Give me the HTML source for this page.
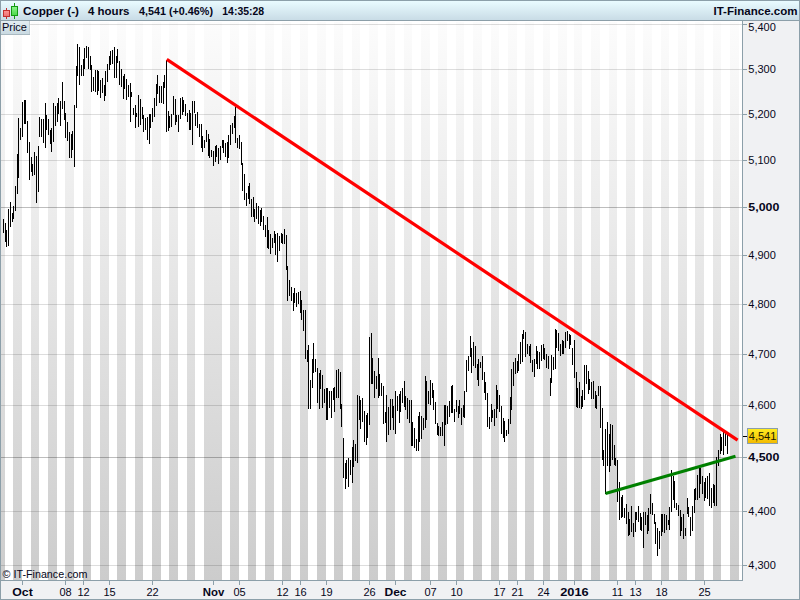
<!DOCTYPE html><html><head><meta charset="utf-8"><style>
html,body{margin:0;padding:0;background:#f0f1f3;}
body{width:800px;height:600px;overflow:hidden;font-family:"Liberation Sans",sans-serif;}
svg{display:block;}
</style></head><body>
<svg width="800" height="600" viewBox="0 0 800 600" font-family="Liberation Sans, sans-serif">
<defs>
<linearGradient id="hdr" x1="0" y1="0" x2="0" y2="1"><stop offset="0" stop-color="#e9fbff"/><stop offset="1" stop-color="#c9dce6"/></linearGradient>
<linearGradient id="stp" gradientUnits="userSpaceOnUse" x1="0" y1="21" x2="0" y2="580"><stop offset="0" stop-color="#fcfcfc"/><stop offset="1" stop-color="#cccccc"/></linearGradient>
<linearGradient id="pbox" x1="0" y1="0" x2="0" y2="1"><stop offset="0" stop-color="#e3edf2"/><stop offset="1" stop-color="#c9d9e1"/></linearGradient>
<linearGradient id="ybox" x1="0" y1="0" x2="0" y2="1"><stop offset="0" stop-color="#ffee22"/><stop offset="1" stop-color="#f2b900"/></linearGradient>
</defs>
<rect x="0" y="0" width="800" height="600" fill="#f0f1f3"/>
<rect x="1" y="21" width="741" height="559" fill="#ffffff"/>
<path d="M1 22h4v558h-4zM13 22h9v558h-9zM31 22h8v558h-8zM48 22h9v558h-9zM65 22h9v558h-9zM83 22h8v558h-8zM100 22h9v558h-9zM117 22h9v558h-9zM135 22h8v558h-8zM152 22h9v558h-9zM169 22h9v558h-9zM187 22h8v558h-8zM204 22h18v558h-18zM230 22h9v558h-9zM248 22h8v558h-8zM265 22h9v558h-9zM282 22h9v558h-9zM300 22h8v558h-8zM317 22h9v558h-9zM334 22h9v558h-9zM352 22h8v558h-8zM369 22h9v558h-9zM386 22h9v558h-9zM404 22h8v558h-8zM421 22h9v558h-9zM438 22h9v558h-9zM456 22h8v558h-8zM473 22h9v558h-9zM491 22h8v558h-8zM508 22h9v558h-9zM525 22h9v558h-9zM543 22h7v558h-7zM558 22h9v558h-9zM574 22h8v558h-8zM591 22h9v558h-9zM609 22h8v558h-8zM626 22h9v558h-9zM643 22h9v558h-9zM661 22h8v558h-8zM678 22h9v558h-9zM695 22h9v558h-9zM713 22h8v558h-8zM730 22h9v558h-9z" fill="url(#stp)"/>
<rect x="1" y="565" width="741" height="1" fill="#000" fill-opacity="0.135"/>
<rect x="1" y="511" width="741" height="1" fill="#000" fill-opacity="0.135"/>
<rect x="1" y="457" width="741" height="1" fill="#000" fill-opacity="0.260"/>
<rect x="1" y="405" width="741" height="1" fill="#000" fill-opacity="0.135"/>
<rect x="1" y="354" width="741" height="1" fill="#000" fill-opacity="0.135"/>
<rect x="1" y="304" width="741" height="1" fill="#000" fill-opacity="0.135"/>
<rect x="1" y="255" width="741" height="1" fill="#000" fill-opacity="0.135"/>
<rect x="1" y="207" width="741" height="1" fill="#000" fill-opacity="0.260"/>
<rect x="1" y="160" width="741" height="1" fill="#000" fill-opacity="0.135"/>
<rect x="1" y="114" width="741" height="1" fill="#000" fill-opacity="0.135"/>
<rect x="1" y="69" width="741" height="1" fill="#000" fill-opacity="0.135"/>
<rect x="1" y="24" width="741" height="1" fill="#000" fill-opacity="0.135"/>
<path d="M3 219h1v14h-1zM5 223h1v19h-1zM6 230h1v17h-1zM8 209h1v37h-1zM10 202h1v25h-1zM12 213h1v9h-1zM13 206h1v13h-1zM15 186h1v25h-1zM17 154h1v40h-1zM18 118h1v60h-1zM20 128h1v12h-1zM22 102h1v35h-1zM24 100h1v24h-1zM25 100h1v24h-1zM27 121h1v32h-1zM29 142h1v38h-1zM31 157h1v15h-1zM32 164h1v12h-1zM34 152h1v23h-1zM36 156h1v47h-1zM38 146h1v46h-1zM39 117h1v20h-1zM41 119h1v18h-1zM43 119h1v24h-1zM45 103h1v45h-1zM46 115h1v15h-1zM48 119h1v16h-1zM50 130h1v14h-1zM51 128h1v24h-1zM53 103h1v39h-1zM55 106h1v20h-1zM57 103h1v19h-1zM58 98h1v16h-1zM60 101h1v25h-1zM62 82h1v27h-1zM64 101h1v19h-1zM65 113h1v25h-1zM67 122h1v19h-1zM69 132h1v26h-1zM71 134h1v24h-1zM72 131h1v19h-1zM74 105h1v62h-1zM76 66h1v42h-1zM77 44h1v32h-1zM79 47h1v38h-1zM81 65h1v11h-1zM83 59h1v17h-1zM84 48h1v21h-1zM86 46h1v12h-1zM88 47h1v22h-1zM90 56h1v14h-1zM91 65h1v27h-1zM93 77h1v14h-1zM95 70h1v22h-1zM97 70h1v25h-1zM98 71h1v20h-1zM100 80h1v18h-1zM102 78h1v15h-1zM104 85h1v16h-1zM105 71h1v25h-1zM107 64h1v18h-1zM109 56h1v14h-1zM110 51h1v14h-1zM112 50h1v14h-1zM114 47h1v31h-1zM116 56h1v22h-1zM117 49h1v14h-1zM119 61h1v24h-1zM121 69h1v18h-1zM123 76h1v23h-1zM124 74h1v15h-1zM126 79h1v21h-1zM128 85h1v12h-1zM130 83h1v39h-1zM131 92h1v5h-1zM133 108h1v7h-1zM135 105h1v23h-1zM136 113h1v4h-1zM138 95h1v32h-1zM140 99h1v26h-1zM142 107h1v12h-1zM143 115h1v17h-1zM145 118h1v12h-1zM147 117h1v23h-1zM149 114h1v30h-1zM150 114h1v14h-1zM152 108h1v14h-1zM154 98h1v19h-1zM156 84h1v22h-1zM157 75h1v19h-1zM159 86h1v17h-1zM161 86h1v17h-1zM163 82h1v22h-1zM164 75h1v13h-1zM166 60h1v72h-1zM168 111h1v20h-1zM169 116h1v12h-1zM171 114h1v13h-1zM173 96h1v19h-1zM175 99h1v26h-1zM176 115h1v7h-1zM178 115h1v17h-1zM180 98h1v21h-1zM182 97h1v18h-1zM183 100h1v12h-1zM185 104h1v12h-1zM187 113h1v9h-1zM189 110h1v20h-1zM190 113h1v17h-1zM192 101h1v44h-1zM194 101h1v12h-1zM195 114h1v12h-1zM197 112h1v16h-1zM199 124h1v13h-1zM201 124h1v24h-1zM202 136h1v16h-1zM204 140h1v8h-1zM206 130h1v12h-1zM208 134h1v22h-1zM209 139h1v19h-1zM211 150h1v7h-1zM213 151h1v15h-1zM215 146h1v16h-1zM216 145h1v12h-1zM218 148h1v16h-1zM220 146h1v14h-1zM222 140h1v8h-1zM223 140h1v13h-1zM225 143h1v14h-1zM227 142h1v21h-1zM228 135h1v23h-1zM230 125h1v20h-1zM232 123h1v11h-1zM234 116h1v12h-1zM235 107h1v36h-1zM237 138h1v10h-1zM239 135h1v14h-1zM241 142h1v23h-1zM242 163h1v28h-1zM244 174h1v26h-1zM246 193h1v13h-1zM248 186h1v13h-1zM249 183h1v21h-1zM251 199h1v18h-1zM253 197h1v20h-1zM254 209h1v13h-1zM256 203h1v16h-1zM258 206h1v18h-1zM260 210h1v16h-1zM261 208h1v14h-1zM263 216h1v14h-1zM265 225h1v12h-1zM267 217h1v31h-1zM268 230h1v19h-1zM270 234h1v20h-1zM272 238h1v10h-1zM274 231h1v12h-1zM275 234h1v21h-1zM277 233h1v29h-1zM279 236h1v15h-1zM281 233h1v10h-1zM282 234h1v10h-1zM284 229h1v15h-1zM286 235h1v35h-1zM287 266h1v35h-1zM289 280h1v16h-1zM291 287h1v14h-1zM293 293h1v18h-1zM294 288h1v15h-1zM296 293h1v14h-1zM298 292h1v12h-1zM300 291h1v22h-1zM301 300h1v20h-1zM303 310h1v21h-1zM305 310h1v49h-1zM307 350h1v12h-1zM308 345h1v64h-1zM310 380h1v29h-1zM312 359h1v29h-1zM313 343h1v30h-1zM315 359h1v13h-1zM317 368h1v35h-1zM319 373h1v36h-1zM320 370h1v19h-1zM322 375h1v33h-1zM324 389h1v14h-1zM326 388h1v32h-1zM327 388h1v32h-1zM329 391h1v17h-1zM331 391h1v27h-1zM333 388h1v12h-1zM334 387h1v25h-1zM336 370h1v28h-1zM338 369h1v29h-1zM340 372h1v37h-1zM341 404h1v23h-1zM343 438h1v40h-1zM345 463h1v26h-1zM346 460h1v19h-1zM348 458h1v29h-1zM350 460h1v15h-1zM352 447h1v36h-1zM353 440h1v27h-1zM355 444h1v17h-1zM357 395h1v68h-1zM359 396h1v24h-1zM360 400h1v29h-1zM362 398h1v24h-1zM364 411h1v31h-1zM366 415h1v30h-1zM367 413h1v25h-1zM369 337h1v88h-1zM371 333h1v51h-1zM372 358h1v26h-1zM374 371h1v27h-1zM376 376h1v13h-1zM378 358h1v40h-1zM379 374h1v22h-1zM381 383h1v13h-1zM383 386h1v38h-1zM385 412h1v11h-1zM386 395h1v47h-1zM388 407h1v28h-1zM390 399h1v31h-1zM392 399h1v19h-1zM393 406h1v24h-1zM395 391h1v43h-1zM397 396h1v15h-1zM399 394h1v29h-1zM400 391h1v21h-1zM402 388h1v15h-1zM404 381h1v26h-1zM405 396h1v14h-1zM407 398h1v21h-1zM409 400h1v23h-1zM411 400h1v46h-1zM412 422h1v24h-1zM414 428h1v20h-1zM416 439h1v12h-1zM418 416h1v35h-1zM419 412h1v30h-1zM421 416h1v23h-1zM423 418h1v12h-1zM425 376h1v52h-1zM426 381h1v39h-1zM428 391h1v13h-1zM430 380h1v25h-1zM432 383h1v15h-1zM433 390h1v20h-1zM435 402h1v22h-1zM437 423h1v12h-1zM438 426h1v10h-1zM440 427h1v9h-1zM442 422h1v14h-1zM444 405h1v41h-1zM445 405h1v20h-1zM447 406h1v18h-1zM449 401h1v16h-1zM451 386h1v27h-1zM452 385h1v28h-1zM454 409h1v13h-1zM456 400h1v12h-1zM458 406h1v12h-1zM459 400h1v14h-1zM461 408h1v17h-1zM463 405h1v12h-1zM464 391h1v27h-1zM466 360h1v32h-1zM468 356h1v15h-1zM470 336h1v21h-1zM471 348h1v25h-1zM473 342h1v24h-1zM475 346h1v22h-1zM477 364h1v16h-1zM478 359h1v27h-1zM480 362h1v6h-1zM482 356h1v24h-1zM484 372h1v21h-1zM485 382h1v18h-1zM487 393h1v34h-1zM489 417h1v12h-1zM491 404h1v18h-1zM492 410h1v8h-1zM494 409h1v17h-1zM496 385h1v33h-1zM497 390h1v19h-1zM499 395h1v17h-1zM501 406h1v28h-1zM503 418h1v20h-1zM504 421h1v21h-1zM506 430h1v6h-1zM508 419h1v15h-1zM510 397h1v27h-1zM511 369h1v41h-1zM513 362h1v24h-1zM515 358h1v16h-1zM517 361h1v12h-1zM518 354h1v17h-1zM520 342h1v22h-1zM522 334h1v28h-1zM523 330h1v9h-1zM525 332h1v25h-1zM527 344h1v10h-1zM529 346h1v10h-1zM530 344h1v19h-1zM532 360h1v12h-1zM534 359h1v18h-1zM536 346h1v18h-1zM537 351h1v18h-1zM539 352h1v17h-1zM541 345h1v16h-1zM543 344h1v15h-1zM544 348h1v12h-1zM546 354h1v14h-1zM548 356h1v13h-1zM550 378h1v18h-1zM551 355h1v28h-1zM553 357h1v13h-1zM555 329h1v40h-1zM556 330h1v18h-1zM558 333h1v18h-1zM560 344h1v12h-1zM562 340h1v14h-1zM563 341h1v13h-1zM565 332h1v16h-1zM567 331h1v10h-1zM569 334h1v15h-1zM570 335h1v10h-1zM572 348h1v17h-1zM574 340h1v38h-1zM576 372h1v35h-1zM577 388h1v20h-1zM579 382h1v26h-1zM581 396h1v13h-1zM582 390h1v17h-1zM584 365h1v35h-1zM586 365h1v19h-1zM588 371h1v23h-1zM589 379h1v11h-1zM591 382h1v17h-1zM593 381h1v18h-1zM595 391h1v17h-1zM596 395h1v14h-1zM598 386h1v10h-1zM600 386h1v42h-1zM602 408h1v52h-1zM603 450h1v16h-1zM605 429h1v65h-1zM607 422h1v44h-1zM609 434h1v38h-1zM610 424h1v42h-1zM612 425h1v35h-1zM614 445h1v20h-1zM615 458h1v8h-1zM617 460h1v42h-1zM619 482h1v38h-1zM621 497h1v21h-1zM622 495h1v22h-1zM624 508h1v10h-1zM626 504h1v20h-1zM628 512h1v24h-1zM629 519h1v16h-1zM631 506h1v26h-1zM633 523h1v14h-1zM635 512h1v20h-1zM636 512h1v8h-1zM638 506h1v16h-1zM640 513h1v17h-1zM641 517h1v14h-1zM643 512h1v36h-1zM645 512h1v13h-1zM647 515h1v19h-1zM648 508h1v23h-1zM650 494h1v20h-1zM652 503h1v12h-1zM654 514h1v10h-1zM655 522h1v22h-1zM657 528h1v28h-1zM659 531h1v18h-1zM661 514h1v22h-1zM662 514h1v18h-1zM664 514h1v19h-1zM666 515h1v15h-1zM668 520h1v5h-1zM669 507h1v23h-1zM671 470h1v42h-1zM673 476h1v24h-1zM674 481h1v27h-1zM676 503h1v7h-1zM678 505h1v11h-1zM680 510h1v26h-1zM681 517h1v14h-1zM683 514h1v25h-1zM685 528h1v8h-1zM687 498h1v16h-1zM688 507h1v10h-1zM690 517h1v19h-1zM692 506h1v25h-1zM694 489h1v24h-1zM695 488h1v12h-1zM697 475h1v25h-1zM699 466h1v32h-1zM700 468h1v16h-1zM702 476h1v18h-1zM704 482h1v19h-1zM705 478h1v20h-1zM707 476h1v23h-1zM709 473h1v33h-1zM711 488h1v20h-1zM713 484h1v19h-1zM714 485h1v21h-1zM716 457h1v49h-1zM718 450h1v16h-1zM720 434h1v20h-1zM721 437h1v14h-1zM723 432h1v23h-1zM725 432h1v14h-1zM727 434h1v20h-1z" fill="#000"/>
<line x1="166.8" y1="59.3" x2="737.6" y2="440.1" stroke="#ff0000" stroke-width="3.2"/>
<line x1="605.5" y1="493.5" x2="735.5" y2="456.3" stroke="#008000" stroke-width="3"/>
<rect x="0" y="0" width="800" height="1" fill="#8c9fa9"/>
<rect x="0" y="0" width="1" height="600" fill="#8c9fa9"/>
<rect x="799" y="0" width="1" height="600" fill="#8c9fa9"/>
<rect x="0" y="599" width="800" height="1" fill="#8c9fa9"/>
<rect x="1" y="1" width="798" height="19" fill="url(#hdr)"/>
<rect x="0" y="20" width="800" height="1" fill="#8c9fa9"/>
<rect x="742" y="21" width="1" height="560" fill="#8c9fa9"/>
<rect x="0" y="580" width="743" height="1" fill="#8c9fa9"/>
<linearGradient id="rg" x1="0" y1="0" x2="0" y2="1"><stop offset="0" stop-color="#ff9494"/><stop offset="1" stop-color="#ec7070"/></linearGradient>
<linearGradient id="gg" x1="0" y1="0" x2="0" y2="1"><stop offset="0" stop-color="#8cf58c"/><stop offset="1" stop-color="#4ad84a"/></linearGradient>
<rect x="6" y="8" width="1" height="11" fill="#c22e2e"/>
<rect x="3.5" y="10.5" width="6" height="6" fill="url(#rg)" stroke="#c22e2e" stroke-width="1"/>
<rect x="14" y="3" width="1" height="16" fill="#129a12"/>
<rect x="11.5" y="6.5" width="6" height="9" fill="url(#gg)" stroke="#129a12" stroke-width="1"/>
<g font-weight="bold" font-size="11" fill="#06061a">
<text x="23" y="15" textLength="56" lengthAdjust="spacingAndGlyphs">Copper (-)</text>
<text x="88" y="15" textLength="41.5" lengthAdjust="spacingAndGlyphs">4 hours</text>
<text x="139" y="15" textLength="74" lengthAdjust="spacingAndGlyphs">4,541 (+0.46%)</text>
<text x="222.3" y="15" textLength="41.8" lengthAdjust="spacingAndGlyphs">14:35:28</text>
<text x="713.5" y="15" textLength="84" lengthAdjust="spacingAndGlyphs">IT-Finance.com</text>
</g>
<rect x="1" y="21" width="29" height="13" fill="url(#pbox)"/>
<rect x="1" y="34" width="29" height="1" fill="#a9b9c1"/>
<rect x="29" y="21" width="1" height="13" fill="#c0ccd2"/>
<text x="1.9" y="30.6" font-size="11" fill="#06061a">Price</text>
<g font-size="11" fill="#06061a">
<rect x="742" y="565" width="5" height="1" fill="#8c9fa9"/>
<text x="748.3" y="569">4,300</text>
<rect x="742" y="511" width="5" height="1" fill="#8c9fa9"/>
<text x="748.3" y="515">4,400</text>
<rect x="742" y="457" width="5" height="1" fill="#8c9fa9"/>
<text x="748.3" y="461" font-weight="bold" textLength="31" lengthAdjust="spacingAndGlyphs">4,500</text>
<rect x="742" y="405" width="5" height="1" fill="#8c9fa9"/>
<text x="748.3" y="409">4,600</text>
<rect x="742" y="354" width="5" height="1" fill="#8c9fa9"/>
<text x="748.3" y="358">4,700</text>
<rect x="742" y="304" width="5" height="1" fill="#8c9fa9"/>
<text x="748.3" y="308">4,800</text>
<rect x="742" y="255" width="5" height="1" fill="#8c9fa9"/>
<text x="748.3" y="259">4,900</text>
<rect x="742" y="207" width="5" height="1" fill="#8c9fa9"/>
<text x="748.3" y="211" font-weight="bold" textLength="31" lengthAdjust="spacingAndGlyphs">5,000</text>
<rect x="742" y="160" width="5" height="1" fill="#8c9fa9"/>
<text x="748.3" y="164">5,100</text>
<rect x="742" y="114" width="5" height="1" fill="#8c9fa9"/>
<text x="748.3" y="118">5,200</text>
<rect x="742" y="69" width="5" height="1" fill="#8c9fa9"/>
<text x="748.3" y="73">5,300</text>
<rect x="742" y="24" width="5" height="1" fill="#8c9fa9"/>
<text x="748.3" y="31">5,400</text>
</g>
<rect x="743" y="436" width="4" height="1" fill="#000"/>
<rect x="747.5" y="428.5" width="30" height="15" fill="url(#ybox)" stroke="#8c9fa9" stroke-width="1"/>
<text x="748.8" y="440" font-size="11" fill="#1a1a00">4,541</text>
<g font-size="11" fill="#06061a" text-anchor="middle">
<rect x="22" y="581" width="1" height="4" fill="#8c9fa9"/>
<text x="22.5" y="596" font-weight="bold" textLength="20.5" lengthAdjust="spacingAndGlyphs">Oct</text>
<rect x="65" y="581" width="1" height="4" fill="#8c9fa9"/>
<text x="65.5" y="596">08</text>
<rect x="83" y="581" width="1" height="4" fill="#8c9fa9"/>
<text x="83.5" y="596">12</text>
<rect x="109" y="581" width="1" height="4" fill="#8c9fa9"/>
<text x="109.5" y="596">15</text>
<rect x="152" y="581" width="1" height="4" fill="#8c9fa9"/>
<text x="152.5" y="596">22</text>
<rect x="213" y="581" width="1" height="4" fill="#8c9fa9"/>
<text x="213.5" y="596" font-weight="bold" textLength="21.5" lengthAdjust="spacingAndGlyphs">Nov</text>
<rect x="239" y="581" width="1" height="4" fill="#8c9fa9"/>
<text x="239.5" y="596">05</text>
<rect x="282" y="581" width="1" height="4" fill="#8c9fa9"/>
<text x="282.5" y="596">12</text>
<rect x="300" y="581" width="1" height="4" fill="#8c9fa9"/>
<text x="300.5" y="596">16</text>
<rect x="326" y="581" width="1" height="4" fill="#8c9fa9"/>
<text x="326.5" y="596">19</text>
<rect x="369" y="581" width="1" height="4" fill="#8c9fa9"/>
<text x="369.5" y="596">26</text>
<rect x="395" y="581" width="1" height="4" fill="#8c9fa9"/>
<text x="395.5" y="596" font-weight="bold" textLength="22.0" lengthAdjust="spacingAndGlyphs">Dec</text>
<rect x="430" y="581" width="1" height="4" fill="#8c9fa9"/>
<text x="430.5" y="596">07</text>
<rect x="456" y="581" width="1" height="4" fill="#8c9fa9"/>
<text x="456.5" y="596">10</text>
<rect x="499" y="581" width="1" height="4" fill="#8c9fa9"/>
<text x="499.5" y="596">17</text>
<rect x="517" y="581" width="1" height="4" fill="#8c9fa9"/>
<text x="517.5" y="596">21</text>
<rect x="543" y="581" width="1" height="4" fill="#8c9fa9"/>
<text x="543.5" y="596">24</text>
<rect x="574" y="581" width="1" height="4" fill="#8c9fa9"/>
<text x="574.5" y="596" font-weight="bold" textLength="28.5" lengthAdjust="spacingAndGlyphs">2016</text>
<rect x="617" y="581" width="1" height="4" fill="#8c9fa9"/>
<text x="617.5" y="596">11</text>
<rect x="635" y="581" width="1" height="4" fill="#8c9fa9"/>
<text x="635.5" y="596">13</text>
<rect x="661" y="581" width="1" height="4" fill="#8c9fa9"/>
<text x="661.5" y="596">18</text>
<rect x="704" y="581" width="1" height="4" fill="#8c9fa9"/>
<text x="704.5" y="596">25</text>
</g>
<text x="2.6" y="577.6" font-size="11" fill="#06061a" textLength="84.8" lengthAdjust="spacingAndGlyphs">© IT-Finance.com</text>
</svg></body></html>
